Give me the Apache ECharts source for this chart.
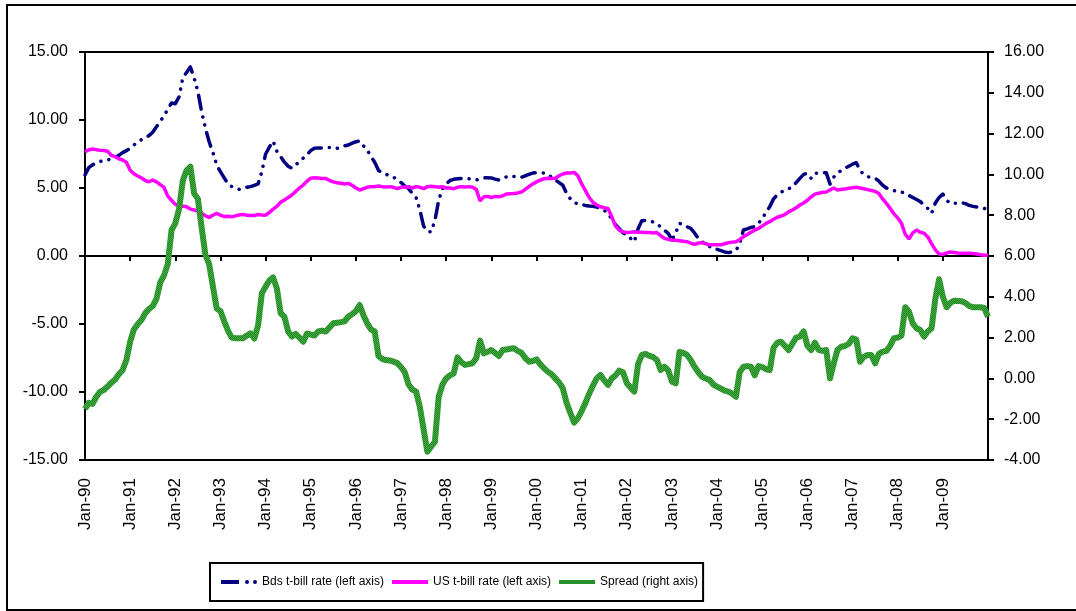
<!DOCTYPE html>
<html>
<head>
<meta charset="utf-8">
<script src="https://cdn.jsdelivr.net/npm/echarts@6/dist/echarts.min.js"></script>
<style>
  html, body { margin: 0; padding: 0; background: #fff; }
  #chart { width: 1076px; height: 611px; }
</style>
</head>
<body>
<div id="chart"></div>
<script>
// Monthly observations, Jan-1990 .. Jan-2010 (241 months)
const startYear = 1990;
const endYear = 2010;
const monthNames = ['Jan','Feb','Mar','Apr','May','Jun','Jul','Aug','Sep','Oct','Nov','Dec'];

// Bahamas t-bill rate (%), left axis
const bdsRate = [
  5.96,6.5,6.7,6.85,6.95,7.0,7.05,7.15,7.25,7.4,7.6,7.75,
  7.9,8.16,8.4,8.55,8.7,8.85,9.1,9.5,9.9,10.3,10.8,11.25,
  11.2,11.7,13.1,13.5,13.9,13.1,12.1,10.6,9.4,8.4,7.6,6.7,
  6.2,5.75,5.3,5.1,5.0,4.9,4.95,5.05,5.1,5.2,5.3,6.2,
  7.5,8.0,8.45,7.7,7.3,6.9,6.6,6.45,6.7,6.95,7.2,7.45,
  7.75,7.92,7.95,7.95,7.99,7.98,7.95,7.92,8.0,8.1,8.16,8.3,
  8.4,8.46,8.1,7.8,7.3,6.9,6.3,6.1,6.0,5.9,5.8,5.6,
  5.4,5.15,4.95,4.6,4.3,3.4,2.2,1.8,1.78,2.6,4.1,4.95,
  5.3,5.55,5.64,5.68,5.7,5.71,5.68,5.62,5.59,5.68,5.74,5.76,
  5.74,5.65,5.59,5.7,5.82,5.88,5.85,5.8,5.79,5.9,6.0,6.1,
  6.13,6.13,6.1,6.0,5.8,5.6,5.4,5.2,4.6,4.2,3.95,3.82,
  3.78,3.72,3.68,3.65,3.6,3.5,3.35,3.15,2.7,2.3,2.0,1.7,
  1.55,1.3,1.05,2.0,2.6,2.62,2.6,2.5,2.35,2.16,1.9,1.67,
  1.18,1.7,2.4,2.3,2.15,2.03,1.7,1.3,1.05,0.85,0.7,0.55,
  0.49,0.4,0.3,0.25,0.3,0.4,0.9,1.91,2.0,2.1,2.16,2.4,
  2.77,3.2,3.63,4.2,4.5,4.7,4.8,4.95,5.05,5.4,5.71,6.0,
  6.08,5.71,6.08,6.1,6.12,6.13,5.29,5.8,6.08,6.3,6.45,6.6,
  6.75,6.86,6.27,6.0,5.83,5.78,5.71,5.5,5.2,5.0,4.9,4.8,
  4.75,4.7,4.61,4.45,4.3,4.15,4.0,3.75,3.5,3.14,3.9,4.3,
  4.56,4.1,3.87,3.88,3.9,3.92,3.85,3.72,3.65,3.6,3.55,3.5,
  3.42
];

// US t-bill rate (%), left axis
const usRate = [
  7.67,7.8,7.87,7.82,7.78,7.76,7.7,7.4,7.3,7.15,7.06,6.9,
  6.3,6.05,5.88,5.75,5.55,5.46,5.59,5.45,5.25,5.05,4.4,4.1,
  3.8,3.7,3.66,3.62,3.45,3.38,3.3,3.15,2.95,2.84,3.0,3.14,
  3.0,2.9,2.92,2.88,2.95,3.02,3.06,3.0,2.98,2.98,3.05,3.02,
  3.0,3.2,3.45,3.65,3.95,4.12,4.3,4.49,4.75,5.0,5.22,5.5,
  5.72,5.76,5.74,5.7,5.7,5.55,5.45,5.39,5.35,5.3,5.34,5.2,
  5.0,4.85,4.95,5.05,5.1,5.1,5.15,5.1,5.08,5.1,5.05,4.95,
  5.05,5.08,5.1,5.0,5.1,5.05,4.95,5.1,5.12,5.1,5.05,5.1,
  5.0,5.0,4.95,5.05,5.1,5.08,5.1,5.05,4.9,4.05,4.35,4.38,
  4.3,4.38,4.36,4.42,4.56,4.58,4.6,4.64,4.7,4.9,5.1,5.3,
  5.45,5.58,5.68,5.71,5.7,5.72,5.9,6.03,6.1,6.1,6.15,5.9,
  5.3,4.8,4.3,3.95,3.75,3.62,3.55,3.5,2.9,2.2,1.9,1.78,
  1.72,1.75,1.79,1.75,1.74,1.72,1.72,1.7,1.72,1.5,1.3,1.22,
  1.18,1.15,1.12,1.08,1.05,0.95,0.86,0.95,0.98,0.9,0.82,0.82,
  0.82,0.82,0.9,0.98,1.02,1.05,1.2,1.42,1.58,1.75,1.9,2.03,
  2.2,2.4,2.52,2.7,2.85,2.94,3.05,3.25,3.38,3.55,3.75,3.9,
  4.1,4.35,4.55,4.62,4.68,4.71,4.85,5.0,4.85,4.9,4.92,4.98,
  5.02,5.05,5.0,4.95,4.88,4.82,4.75,4.6,4.2,3.87,3.5,3.1,
  2.8,2.4,1.6,1.25,1.7,1.9,1.75,1.68,1.4,0.9,0.45,0.15,
  0.12,0.22,0.3,0.25,0.22,0.2,0.2,0.2,0.18,0.15,0.1,0.06,
  0.05
];

// Spread (percentage points), right axis
const spread = [
  -1.5,-1.2,-1.25,-0.9,-0.65,-0.57,-0.4,-0.21,-0.05,0.2,0.41,0.9,
  1.8,2.4,2.65,2.86,3.2,3.4,3.55,3.9,4.7,5.05,5.6,7.27,
  7.6,8.3,9.7,10.2,10.38,9.07,8.8,7.4,6.05,5.6,4.5,3.43,
  3.3,2.8,2.34,2.0,1.97,1.97,1.97,2.1,2.21,1.95,2.6,4.17,
  4.5,4.8,4.95,4.4,3.19,3.02,2.3,2.05,2.18,2.0,1.8,2.2,
  2.15,2.1,2.3,2.34,2.3,2.5,2.7,2.73,2.76,2.8,3.02,3.15,
  3.3,3.6,3.1,2.7,2.4,2.3,1.1,0.95,0.9,0.88,0.82,0.75,
  0.55,0.3,-0.3,-0.55,-0.65,-1.4,-2.5,-3.59,-3.35,-3.1,-0.9,-0.3,
  0.0,0.15,0.25,1.03,0.8,0.66,0.7,0.74,1.0,1.85,1.23,1.3,
  1.39,1.25,1.1,1.39,1.42,1.45,1.48,1.35,1.26,1.0,0.82,0.85,
  0.93,0.7,0.5,0.33,0.2,0.0,-0.2,-0.49,-1.2,-1.7,-2.17,-1.95,
  -1.6,-1.2,-0.75,-0.35,0.0,0.17,-0.1,-0.32,0.0,0.15,0.38,0.3,
  -0.24,-0.45,-0.65,0.7,1.15,1.2,1.1,1.05,0.9,0.41,0.57,0.4,
  -0.16,-0.24,1.3,1.25,1.15,0.9,0.57,0.3,0.08,0.0,-0.08,-0.3,
  -0.4,-0.5,-0.6,-0.65,-0.75,-0.9,0.3,0.57,0.6,0.57,0.15,0.6,
  0.55,0.45,0.41,1.5,1.75,1.8,1.6,1.39,1.7,2.0,2.05,2.3,
  1.6,1.39,1.75,1.4,1.35,1.39,0.0,0.74,1.4,1.55,1.59,1.7,
  1.97,1.9,0.82,1.05,1.15,1.15,0.74,1.2,1.31,1.35,1.6,1.97,
  2.0,2.1,3.49,3.27,2.7,2.46,2.37,2.05,2.3,2.46,3.9,4.86,
  4.0,3.49,3.7,3.81,3.8,3.78,3.7,3.55,3.49,3.49,3.49,3.45,
  3.02
];

const seriesNames = ['Bds t-bill rate (left axis)', 'US t-bill rate (left axis)', 'Spread (right axis)'];

// Month labels such as "Jan-90"
const categories = [];
for (let y = startYear; y <= endYear; y++) {
  for (let m = 0; m < 12; m++) {
    if (y === endYear && m > 0) break;
    categories.push(monthNames[m] + '-' + String(y).slice(2));
  }
}
const lastIndex = categories.length - 1;

// Small checkered texture for the spread line
const tex = document.createElement('canvas');
tex.width = 2; tex.height = 2;
const tctx = tex.getContext('2d');
tctx.fillStyle = '#1f861f'; tctx.fillRect(0, 0, 2, 2);
tctx.fillStyle = '#46ad46'; tctx.fillRect(0, 0, 1, 1); tctx.fillRect(1, 1, 1, 1);
const spreadColor = { image: tex, repeat: 'repeat' };

// Legend keys: a dash followed by two dots, and plain bars
const dot = (cx) => 'M' + (cx - 2) + ',2a2,2 0 1,0 4,0a2,2 0 1,0 -4,0z';
const bdsIcon = 'path://M0,0h18v4h-18z' + dot(26) + dot(34);
const barIcon = 'path://M0,0h36v4h-36z';

const font = "'Liberation Sans', Arial, sans-serif";
const chart = echarts.init(document.getElementById('chart'), null, { renderer: 'canvas' });

chart.setOption({
  animation: false,
  backgroundColor: '#ffffff',
  textStyle: { fontFamily: font, color: '#000' },
  graphic: [{
    type: 'rect', silent: true, z: 0,
    shape: { x: 7, y: 5, width: 1085, height: 605 },
    style: { fill: 'none', stroke: '#000', lineWidth: 2 }
  }],
  grid: {
    left: 85, right: 88, top: 52, bottom: 151,
    show: true, borderColor: '#000', borderWidth: 2, backgroundColor: 'transparent'
  },
  legend: {
    left: 210, top: 563,
    padding: [13, 5, 13, 11],
    itemGap: 8, itemWidth: 36, itemHeight: 4,
    borderColor: '#000', borderWidth: 2,
    textStyle: { fontFamily: font, fontSize: 12, color: '#000' },
    data: [
      { name: seriesNames[0], icon: bdsIcon },
      { name: seriesNames[1], icon: barIcon },
      { name: seriesNames[2], icon: barIcon }
    ]
  },
  xAxis: [
    {
      type: 'category', data: categories, boundaryGap: false, position: 'bottom',
      axisLine: { onZero: true, onZeroAxisIndex: 0, lineStyle: { color: '#000', width: 2 } },
      axisTick: { interval: (i) => i % 12 === 0, length: 5, lineStyle: { color: '#000', width: 2 } },
      axisLabel: { show: false },
      splitLine: { show: false }
    },
    {
      type: 'category', data: categories, boundaryGap: false, position: 'bottom',
      axisLine: { show: false, onZero: false },
      axisTick: { show: false },
      axisLabel: {
        interval: (i) => i % 12 === 0 && i < lastIndex,
        rotate: 90, margin: 18, fontSize: 17, color: '#000', fontFamily: font
      },
      splitLine: { show: false }
    }
  ],
  yAxis: [
    {
      type: 'value', min: -15, max: 15, interval: 5, position: 'left',
      axisLine: { show: true, lineStyle: { color: '#000', width: 2 } },
      axisTick: { show: true, length: 6, lineStyle: { color: '#000', width: 2 } },
      axisLabel: { formatter: (v) => v.toFixed(2), fontSize: 16, color: '#000', margin: 17, fontFamily: font },
      splitLine: { show: false }
    },
    {
      type: 'value', min: -4, max: 16, interval: 2, position: 'right',
      axisLine: { show: true, lineStyle: { color: '#000', width: 2 } },
      axisTick: { show: true, length: 6, lineStyle: { color: '#000', width: 2 } },
      axisLabel: { formatter: (v) => v.toFixed(2), fontSize: 16, color: '#000', margin: 16, fontFamily: font },
      splitLine: { show: false }
    }
  ],
  series: [
    {
      name: seriesNames[0], type: 'line', data: bdsRate, xAxisIndex: 0, yAxisIndex: 0,
      symbol: 'none', color: '#000080',
      lineStyle: { color: '#000080', width: 3.5, type: [14, 8, 0.1, 8, 0.1, 8], cap: 'round', join: 'round' }
    },
    {
      name: seriesNames[1], type: 'line', data: usRate, xAxisIndex: 0, yAxisIndex: 0,
      symbol: 'none', color: '#ff00ff',
      lineStyle: { color: '#ff00ff', width: 3.5 }
    },
    {
      name: seriesNames[2], type: 'line', data: spread, xAxisIndex: 0, yAxisIndex: 1,
      symbol: 'none', color: '#2a8f2a',
      lineStyle: { color: spreadColor, width: 6, join: 'round' }
    }
  ]
});
</script>
</body>
</html>
